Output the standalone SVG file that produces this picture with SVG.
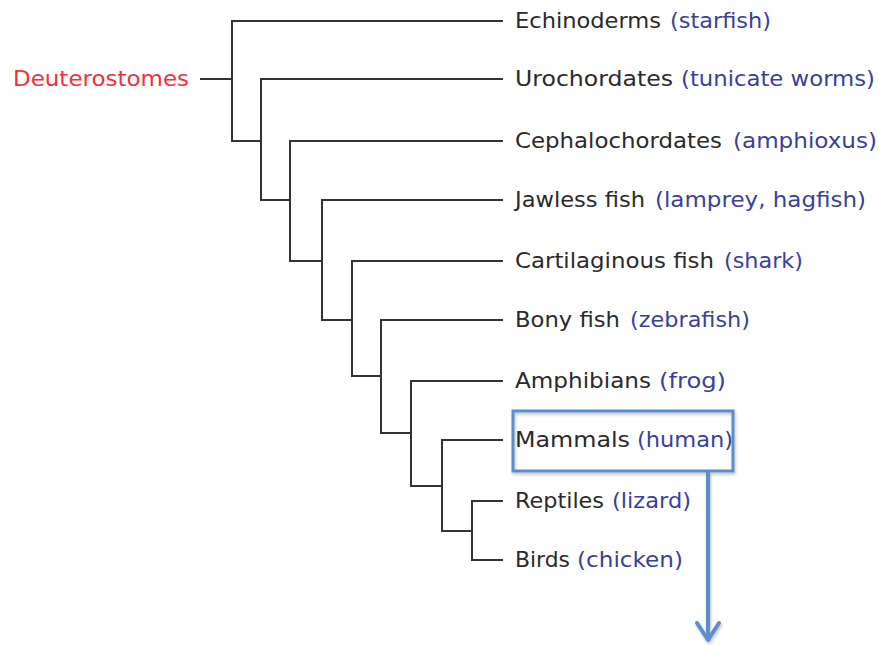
<svg xmlns="http://www.w3.org/2000/svg" width="879" height="645" viewBox="0 0 879 645">
  <defs>
    <style>
      .lbl { font-family: "DejaVu Sans", "Liberation Sans", sans-serif; font-size: 22px; }
      .name { fill: #2a2a2a; }
      .ex { fill: #3a3f9c; }
      .root { fill: #f2303c; }
      .tree { fill: none; stroke: #333333; stroke-width: 2; stroke-linejoin: miter; stroke-linecap: square; }
      .hl { fill: none; stroke: #5b8fc9; stroke-width: 3; }
      .arrow { fill: none; stroke: #5b8fc9; stroke-width: 4; stroke-linecap: round; stroke-linejoin: round; }
    </style>
    <filter id="shadow" x="-10%" y="-20%" width="120%" height="150%">
      <feDropShadow dx="1" dy="2" stdDeviation="1.5" flood-color="#000000" flood-opacity="0.25"/>
    </filter>
  </defs>
  <rect width="879" height="645" fill="#ffffff"/>

  <g id="connectors">
    <path class="tree" d="M201,79 H232"/>
    <path class="tree" d="M502,21 H232 V141 H261"/>
    <path class="tree" d="M502,79 H261 V200 H290"/>
    <path class="tree" d="M502,141 H290 V261 H322"/>
    <path class="tree" d="M502,200 H322 V320 H352"/>
    <path class="tree" d="M502,261 H352 V376 H381"/>
    <path class="tree" d="M502,320 H381 V433 H411"/>
    <path class="tree" d="M502,381 H411 V486 H442"/>
    <path class="tree" d="M502,440 H442 V531 H472"/>
    <path class="tree" d="M502,501 H472 V560 H502"/>
  </g>

  <g id="deuterostomes">
    <text class="lbl root" x="13" y="86" textLength="176" lengthAdjust="spacingAndGlyphs">Deuterostomes</text>
  </g>
  <g id="echinoderms">
    <text class="lbl name" x="515" y="28" textLength="146" lengthAdjust="spacingAndGlyphs">Echinoderms</text>
    <text class="lbl ex" x="670" y="28" textLength="101" lengthAdjust="spacingAndGlyphs">(starfish)</text>
  </g>
  <g id="urochordates">
    <text class="lbl name" x="515" y="86" textLength="158" lengthAdjust="spacingAndGlyphs">Urochordates</text>
    <text class="lbl ex" x="681" y="86" textLength="194" lengthAdjust="spacingAndGlyphs">(tunicate worms)</text>
  </g>
  <g id="cephalochordates">
    <text class="lbl name" x="515" y="148" textLength="207" lengthAdjust="spacingAndGlyphs">Cephalochordates</text>
    <text class="lbl ex" x="733" y="148" textLength="144" lengthAdjust="spacingAndGlyphs">(amphioxus)</text>
  </g>
  <g id="jawless-fish">
    <text class="lbl name" x="515" y="207" textLength="130" lengthAdjust="spacingAndGlyphs">Jawless fish</text>
    <text class="lbl ex" x="655" y="207" textLength="211" lengthAdjust="spacingAndGlyphs">(lamprey, hagfish)</text>
  </g>
  <g id="cartilaginous-fish">
    <text class="lbl name" x="515" y="268" textLength="199" lengthAdjust="spacingAndGlyphs">Cartilaginous fish</text>
    <text class="lbl ex" x="724" y="268" textLength="79" lengthAdjust="spacingAndGlyphs">(shark)</text>
  </g>
  <g id="bony-fish">
    <text class="lbl name" x="515" y="327" textLength="105" lengthAdjust="spacingAndGlyphs">Bony fish</text>
    <text class="lbl ex" x="630" y="327" textLength="120" lengthAdjust="spacingAndGlyphs">(zebrafish)</text>
  </g>
  <g id="amphibians">
    <text class="lbl name" x="515" y="388" textLength="136" lengthAdjust="spacingAndGlyphs">Amphibians</text>
    <text class="lbl ex" x="659" y="388" textLength="67" lengthAdjust="spacingAndGlyphs">(frog)</text>
  </g>
  <g id="mammals">
    <text class="lbl name" x="515" y="447" textLength="115" lengthAdjust="spacingAndGlyphs">Mammals</text>
    <text class="lbl ex" x="637" y="447" textLength="96" lengthAdjust="spacingAndGlyphs">(human)</text>
  </g>
  <g id="reptiles">
    <text class="lbl name" x="515" y="508" textLength="89" lengthAdjust="spacingAndGlyphs">Reptiles</text>
    <text class="lbl ex" x="612" y="508" textLength="79" lengthAdjust="spacingAndGlyphs">(lizard)</text>
  </g>
  <g id="birds">
    <text class="lbl name" x="515" y="567" textLength="55" lengthAdjust="spacingAndGlyphs">Birds</text>
    <text class="lbl ex" x="577" y="567" textLength="106" lengthAdjust="spacingAndGlyphs">(chicken)</text>
  </g>

  <g id="highlight" filter="url(#shadow)">
    <rect class="hl" x="513" y="411" width="220" height="60"/>
    <path class="arrow" d="M708,472 V639"/>
    <path class="arrow" d="M697,623 L708,640 L719,623"/>
  </g>
</svg>
